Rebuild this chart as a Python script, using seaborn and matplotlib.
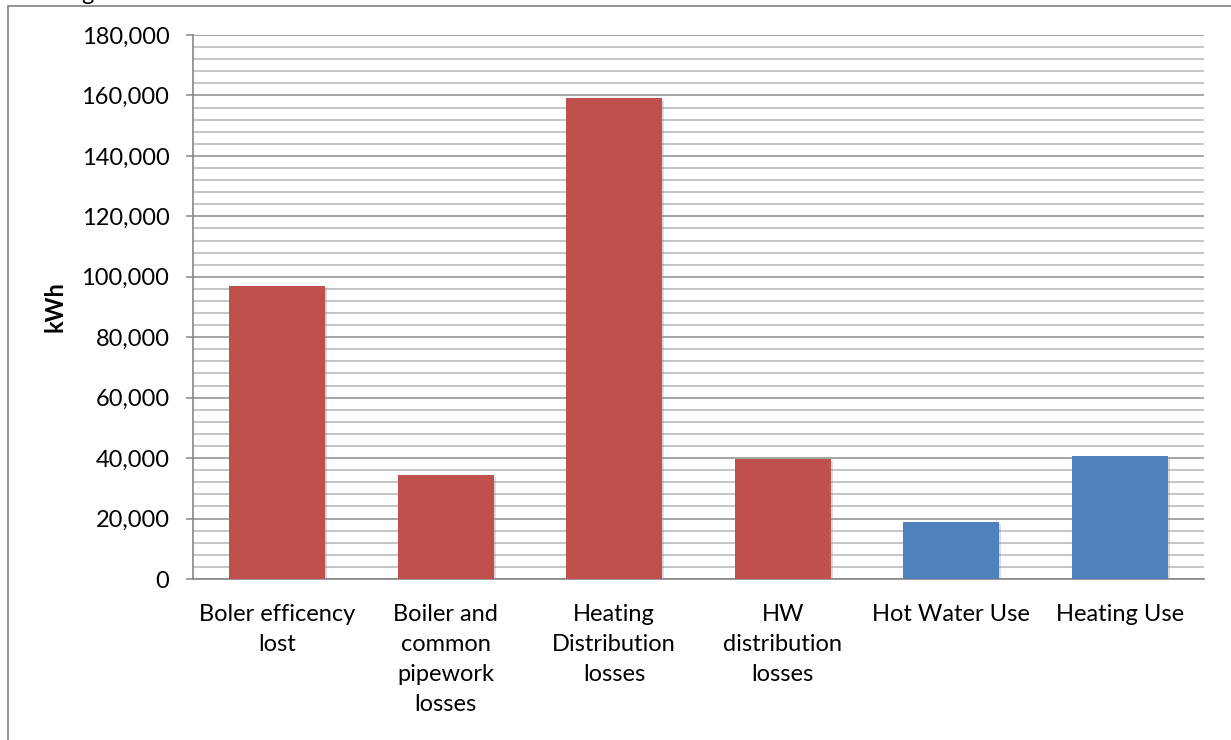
import matplotlib
matplotlib.use("Agg")
import matplotlib.pyplot as plt
import matplotlib.patheffects as pe
from matplotlib.ticker import MultipleLocator, FuncFormatter
from matplotlib.lines import Line2D
import seaborn as sns
import pandas as pd

categories = [
    "Boler efficency\nlost",
    "Boiler and\ncommon\npipework\nlosses",
    "Heating\nDistribution\nlosses",
    "HW\ndistribution\nlosses",
    "Hot Water Use",
    "Heating Use",
]
values = [97000, 34300, 159000, 39600, 18900, 40700]
groups = ["loss", "loss", "loss", "loss", "use", "use"]
palette = {"loss": "#C0504D", "use": "#4F81BD"}

sns.set_theme(style="white")
plt.rcParams["font.family"] = ["Lato", "DejaVu Sans"]

df = pd.DataFrame({"category": categories, "kwh": values, "group": groups})

fig = plt.figure(figsize=(12.31, 7.40), dpi=100)
ax = fig.add_axes([193 / 1231, 1 - 579 / 740, (1204 - 193) / 1231, (579 - 35) / 740])

sns.barplot(data=df, x="category", y="kwh", hue="group", palette=palette,
            dodge=False, width=0.57, legend=False, saturation=1, ax=ax, zorder=3)

for bar in ax.patches:
    bar.set_edgecolor("none")
    bar.set_path_effects([pe.SimplePatchShadow(offset=(1.5, -1.5), shadow_rgbFace="#999999", alpha=0.35),
                          pe.Normal()])

ax.set_ylim(0, 180000)
ax.set_xlim(-0.5, len(categories) - 0.5)
ax.yaxis.set_major_locator(MultipleLocator(20000))
ax.yaxis.set_minor_locator(MultipleLocator(4000))
ax.yaxis.set_major_formatter(FuncFormatter(lambda v, p: f"{int(v):,}"))

ax.grid(which="major", axis="y", color="#8c8c8c", linewidth=1.1, zorder=0)
ax.grid(which="minor", axis="y", color="#bababa", linewidth=1.2, zorder=0)
ax.set_axisbelow(True)

for side in ["top", "right"]:
    ax.spines[side].set_visible(False)
for side in ["left", "bottom"]:
    ax.spines[side].set_color("#868686")
    ax.spines[side].set_linewidth(1.2)

ax.tick_params(axis="y", which="major", direction="out", length=5, width=1.1,
               color="#868686", pad=12, labelsize=17, labelcolor="black", left=True)
ax.tick_params(axis="y", which="minor", length=0)
ax.tick_params(axis="x", length=0, pad=18, labelsize=17, labelcolor="black")
for lbl in ax.get_xticklabels():
    lbl.set_linespacing(1.52)
    lbl.set_verticalalignment("top")

ax.set_xlabel("")
ax.set_ylabel("kWh", fontsize=17, fontweight="bold", color="black")
ax.yaxis.set_label_coords(-0.125, 0.5)

# chart area frame, running off the right and bottom edges
fig.add_artist(Line2D([8 / 1231, 8 / 1231], [0, 1 - 6 / 740], transform=fig.transFigure,
                      color="#8a8a8a", linewidth=1.3))
fig.add_artist(Line2D([8 / 1231, 1], [1 - 6 / 740, 1 - 6 / 740], transform=fig.transFigure,
                      color="#8a8a8a", linewidth=1.3))
# descender of the chart title above the frame
fig.text(87 / 1231, 1 - 4 / 740, "g", fontsize=17, ha="center", va="bottom", color="black")

fig.savefig("out.png", dpi=100)
